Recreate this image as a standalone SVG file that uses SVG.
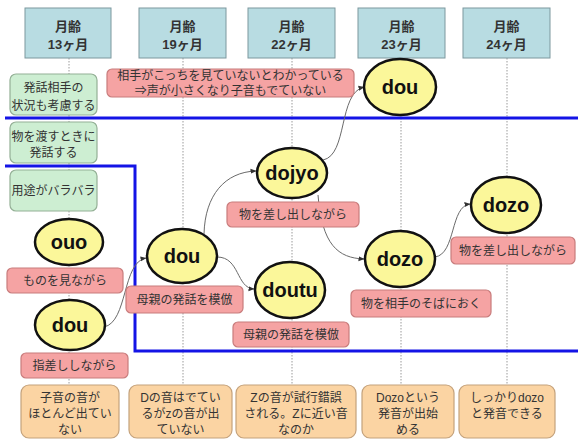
<svg xmlns="http://www.w3.org/2000/svg" width="578" height="441" viewBox="0 0 578 441">
<style>
text{font-family:"Liberation Sans","Noto Sans CJK JP",sans-serif;fill:#222;text-anchor:middle}
.hdr{fill:#b8dce2;stroke:#7c989e;stroke-width:1}
.ht{font-size:13px;font-weight:bold;fill:#333}
.grn{fill:#cdeed2;stroke:#94b096;stroke-width:1.2}
.pnk{fill:#f5a3a3;stroke:#c87c7c;stroke-width:1.2}
.org{fill:#fbd4a3;stroke:#c4a27c;stroke-width:1.2}
.t{font-size:12px;fill:#333}
.pt{font-size:12px;fill:#333}
.ell{fill:#fbf79a;stroke:#111;stroke-width:2.5}
.et{font-size:20px;font-weight:bold;fill:#111}
.grid{stroke:#9a9a9a;stroke-width:1;stroke-dasharray:1.5 1.5;fill:none}
.blue{stroke:#1414e6;stroke-width:3;fill:none}
.con{stroke:#6a6a6a;stroke-width:1;fill:none;marker-end:url(#arr)}
</style>
<defs>
<marker id="arr" viewBox="0 0 6 6" refX="5.5" refY="3" markerWidth="6" markerHeight="6" orient="auto" markerUnits="userSpaceOnUse">
<path d="M0,0.5 L6,3 L0,5.5 z" fill="#333"/>
</marker>
</defs>
<rect width="578" height="441" fill="#fff"/>
<g id="gridlines">
<line class="grid" x1="69" y1="58" x2="69" y2="385"/>
<line class="grid" x1="183" y1="58" x2="183" y2="385"/>
<line class="grid" x1="292" y1="58" x2="292" y2="385"/>
<line class="grid" x1="401" y1="58" x2="401" y2="385"/>
<line class="grid" x1="507" y1="58" x2="507" y2="385"/>
</g>
<g id="boundaries">
<line class="blue" x1="5" y1="118" x2="578" y2="118"/>
<path class="blue" d="M5,166 H135 V351 H578"/>
</g>
<g id="connectors">
<path class="con" d="M104,327 C128,322 122,262 146,258"/>
<path class="con" d="M204,234 C205,195 225,172 256,171"/>
<path class="con" d="M217,257 C240,257 236,288 254,289"/>
<path class="con" d="M323,160 C348,155 338,93 364,87"/>
<path class="con" d="M318,195 C322,245 338,258 364,259"/>
<path class="con" d="M435,257 C456,254 450,206 470,204"/>
</g>
<g id="h1"><rect class="hdr" x="25" y="8" width="86" height="50"/><text class="ht" x="68" y="31">月齢</text><text class="ht" x="68" y="49">13ヶ月</text></g>
<g id="h2"><rect class="hdr" x="139" y="8" width="87" height="50"/><text class="ht" x="182.5" y="31">月齢</text><text class="ht" x="182.5" y="49">19ヶ月</text></g>
<g id="h3"><rect class="hdr" x="248" y="8" width="87" height="50"/><text class="ht" x="291.5" y="31">月齢</text><text class="ht" x="291.5" y="49">22ヶ月</text></g>
<g id="h4"><rect class="hdr" x="358" y="8" width="87" height="50"/><text class="ht" x="401.5" y="31">月齢</text><text class="ht" x="401.5" y="49">23ヶ月</text></g>
<g id="h5"><rect class="hdr" x="463" y="8" width="87" height="50"/><text class="ht" x="506.5" y="31">月齢</text><text class="ht" x="506.5" y="49">24ヶ月</text></g>
<g id="g1"><rect class="grn" x="10" y="74" width="87" height="41" rx="6"/><text class="t" x="53.5" y="92">発話相手の</text><text class="t" x="53.5" y="110">状況も考慮する</text></g>
<g id="g2"><rect class="grn" x="10" y="122" width="87" height="41" rx="6"/><text class="t" x="53.5" y="141">物を渡すときに</text><text class="t" x="53.5" y="157">発話する</text></g>
<g id="g3"><rect class="grn" x="10" y="170" width="87" height="41" rx="6"/><text class="t" x="53.5" y="195">用途がバラバラ</text></g>
<g id="p-wide"><rect class="pnk" x="107" y="69" width="247" height="28" rx="5"/><text class="pt" x="230.5" y="80">相手がこっちを見ていないとわかっている</text><text class="pt" x="230.5" y="95">⇒声が小さくなり子音もでていない</text></g>
<g id="ouo"><ellipse class="ell" cx="69" cy="242" rx="34" ry="23"/><text class="et" x="69" y="249">ouo</text></g>
<g id="p-ouo"><rect class="pnk" x="7" y="268" width="116" height="25" rx="5"/><text class="pt" x="65" y="285">ものを見ながら</text></g>
<g id="dou1"><ellipse class="ell" cx="70" cy="325" rx="35" ry="25"/><text class="et" x="70" y="332">dou</text></g>
<g id="p-dou1"><rect class="pnk" x="21" y="353" width="107" height="25" rx="5"/><text class="pt" x="74.5" y="370">指差ししながら</text></g>
<g id="dou2"><ellipse class="ell" cx="182" cy="256" rx="35" ry="27"/><text class="et" x="182" y="263">dou</text></g>
<g id="p-dou2"><rect class="pnk" x="126" y="286" width="117" height="27" rx="5"/><text class="pt" x="184.5" y="304">母親の発話を模倣</text></g>
<g id="dojyo"><ellipse class="ell" cx="292" cy="173" rx="35" ry="25"/><text class="et" x="292" y="180">dojyo</text></g>
<g id="p-dojyo"><rect class="pnk" x="227" y="202" width="132" height="25" rx="5"/><text class="pt" x="293" y="219">物を差し出しながら</text></g>
<g id="doutu"><ellipse class="ell" cx="290" cy="290" rx="35" ry="28"/><text class="et" x="290" y="297">doutu</text></g>
<g id="p-doutu"><rect class="pnk" x="233" y="322" width="116" height="25" rx="5"/><text class="pt" x="291" y="339">母親の発話を模倣</text></g>
<g id="dou3"><ellipse class="ell" cx="400" cy="87" rx="36" ry="28"/><text class="et" x="400" y="94">dou</text></g>
<g id="dozo1"><ellipse class="ell" cx="400" cy="259" rx="35" ry="28"/><text class="et" x="400" y="266">dozo</text></g>
<g id="p-dozo1"><rect class="pnk" x="351" y="290" width="140" height="27" rx="5"/><text class="pt" x="421" y="308">物を相手のそばにおく</text></g>
<g id="dozo2"><ellipse class="ell" cx="506" cy="205" rx="35" ry="28"/><text class="et" x="506" y="212">dozo</text></g>
<g id="p-dozo2"><rect class="pnk" x="451" y="237" width="124" height="27" rx="5"/><text class="pt" x="513" y="255">物を差し出しながら</text></g>
<g id="o1"><rect class="org" x="21" y="385" width="98" height="53" rx="8"/><text class="t" x="70" y="402">子音の音が</text><text class="t" x="70" y="418">ほとんど出てい</text><text class="t" x="70" y="434">ない</text></g>
<g id="o2"><rect class="org" x="129" y="385" width="103" height="53" rx="8"/><text class="t" x="180.5" y="402">Dの音はでてい</text><text class="t" x="180.5" y="418">るがzの音が出</text><text class="t" x="180.5" y="434">ていない</text></g>
<g id="o3"><rect class="org" x="236" y="385" width="120" height="53" rx="8"/><text class="t" x="296" y="402">Zの音が試行錯誤</text><text class="t" x="296" y="418">される。Zに近い音</text><text class="t" x="296" y="434">なのか</text></g>
<g id="o4"><rect class="org" x="362" y="385" width="92" height="53" rx="8"/><text class="t" x="408" y="402">Dozoという</text><text class="t" x="408" y="418">発音が出始</text><text class="t" x="408" y="434">める</text></g>
<g id="o5"><rect class="org" x="459" y="385" width="96" height="53" rx="8"/><text class="t" x="507" y="402">しっかりdozo</text><text class="t" x="507" y="418">と発音できる</text></g>
</svg>
